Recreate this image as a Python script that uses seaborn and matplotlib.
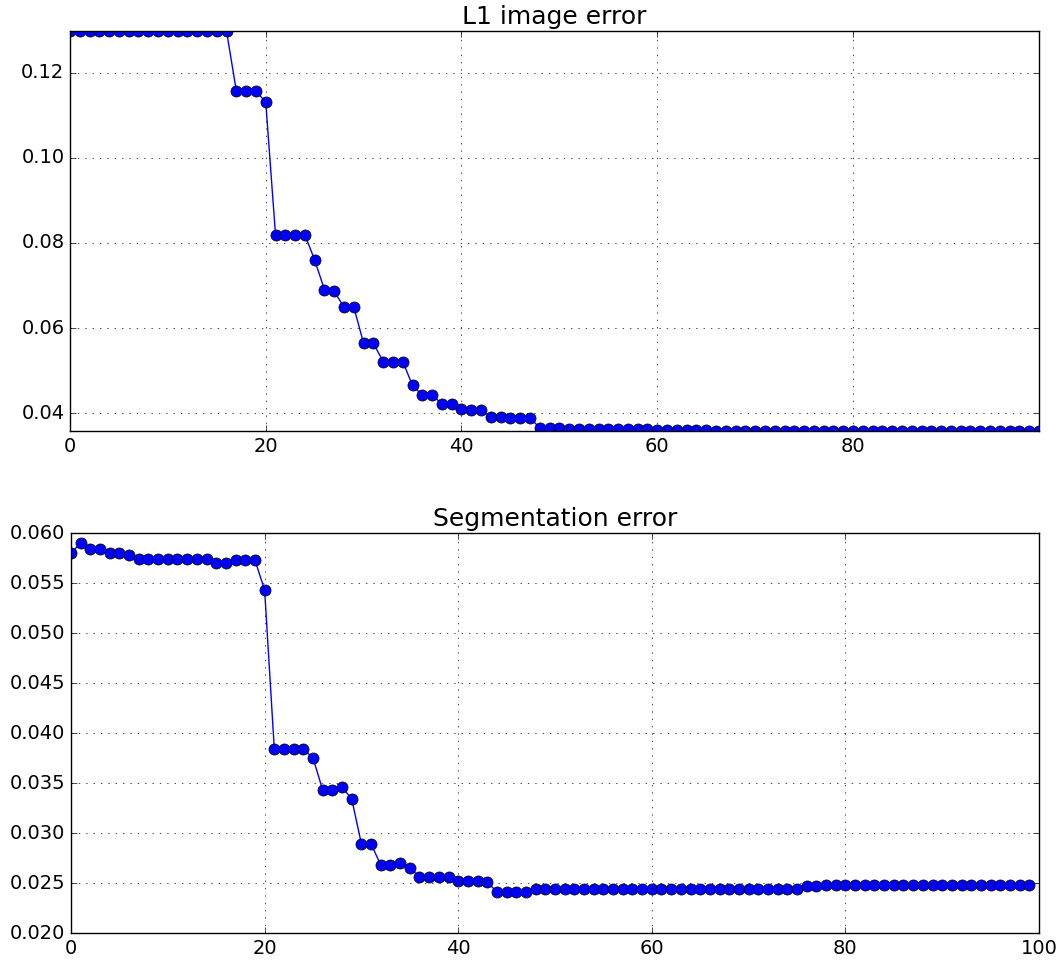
import matplotlib

matplotlib.use("Agg")
import matplotlib.pyplot as plt
import numpy as np
import pandas as pd
import seaborn as sns

# error per iteration
l1_error = [
    0.1298, 0.1298, 0.1298, 0.1298, 0.1298, 0.1298, 0.1298, 0.1298, 0.1298, 0.1298,
    0.1298, 0.1298, 0.1298, 0.1298, 0.1298, 0.1297, 0.1297, 0.1157, 0.1157, 0.1157,
    0.1131, 0.0819, 0.0819, 0.0819, 0.0819, 0.0760, 0.0690, 0.0686, 0.0649, 0.0649,
    0.0564, 0.0564, 0.0521, 0.0521, 0.0521, 0.0465, 0.0442, 0.0442, 0.0422, 0.0422,
    0.0410, 0.0407, 0.0407, 0.0392, 0.0392, 0.0388, 0.0388, 0.0388, 0.0366, 0.0366,
    0.0365, 0.0362, 0.0362, 0.0362, 0.0362, 0.0362, 0.0362, 0.0362, 0.0362, 0.0362,
    0.0361, 0.0361, 0.0361, 0.0361, 0.0361, 0.0361, 0.0358, 0.0358, 0.0358, 0.0358,
    0.0358, 0.0358, 0.0358, 0.0358, 0.0358, 0.0358, 0.0358, 0.0358, 0.0358, 0.0358,
    0.0358, 0.0358, 0.0358, 0.0358, 0.0358, 0.0358, 0.0358, 0.0358, 0.0358, 0.0358,
    0.0358, 0.0358, 0.0358, 0.0358, 0.0358, 0.0358, 0.0358, 0.0358, 0.0358, 0.0358,
]

seg_error = [
    0.0580, 0.0590, 0.0584, 0.0584, 0.0580, 0.0580, 0.0578, 0.0574, 0.0574, 0.0574,
    0.0574, 0.0574, 0.0574, 0.0574, 0.0574, 0.0570, 0.0570, 0.0573, 0.0573, 0.0573,
    0.0543, 0.0384, 0.0384, 0.0384, 0.0384, 0.0375, 0.0343, 0.0343, 0.0346, 0.0334,
    0.0289, 0.0289, 0.0268, 0.0268, 0.0270, 0.0265, 0.0256, 0.0256, 0.0256, 0.0256,
    0.0252, 0.0252, 0.0252, 0.0251, 0.0241, 0.0241, 0.0241, 0.0241, 0.0244, 0.0244,
    0.0244, 0.0244, 0.0244, 0.0244, 0.0244, 0.0244, 0.0244, 0.0244, 0.0244, 0.0244,
    0.0244, 0.0244, 0.0244, 0.0244, 0.0244, 0.0244, 0.0244, 0.0244, 0.0244, 0.0244,
    0.0244, 0.0244, 0.0244, 0.0244, 0.0244, 0.0244, 0.0247, 0.0247, 0.0248, 0.0248,
    0.0248, 0.0248, 0.0248, 0.0248, 0.0248, 0.0248, 0.0248, 0.0248, 0.0248, 0.0248,
    0.0248, 0.0248, 0.0248, 0.0248, 0.0248, 0.0248, 0.0248, 0.0248, 0.0248, 0.0248,
]

titles = ["L1 image error", "Segmentation error"]


def plot_error(ax, values, title):
    df = pd.DataFrame({"iteration": np.arange(len(values)), "error": values})
    sns.lineplot(
        data=df,
        x="iteration",
        y="error",
        ax=ax,
        color="b",
        linewidth=1,
        marker="o",
        markersize=8,
        markeredgecolor="k",
        markeredgewidth=0.5,
    )
    ax.set_title(title, fontsize=18)
    ax.set_xlabel("")
    ax.set_ylabel("")
    # sparse dotted grid like the old default
    ax.grid(True, color="k", linewidth=0.5, dashes=(1, 4.3))
    ax.tick_params(labelsize=14)


def run_main():
    # old matplotlib look: inward ticks on all sides, dotted grid
    plt.style.use("classic")
    plt.rcParams["font.family"] = ["DejaVu Sans"]

    fig = plt.figure(figsize=(10.6, 9.61), dpi=100, facecolor="white")
    ax_top = fig.add_axes([0.066, 0.5515, 0.9142, 0.4162])
    ax_bot = fig.add_axes([0.067, 0.0291, 0.9132, 0.4162])

    plot_error(ax_top, l1_error, titles[0])
    ax_top.set_xlim(0, len(l1_error) - 1)
    ax_top.set_ylim(min(l1_error), max(l1_error))

    plot_error(ax_bot, seg_error, titles[1])
    ax_bot.set_xlim(0, 100)
    ax_bot.set_ylim(0.020, 0.060)

    fig.savefig("out.png", dpi=100, facecolor="white")
    plt.close(fig)


if __name__ == "__main__":
    run_main()
